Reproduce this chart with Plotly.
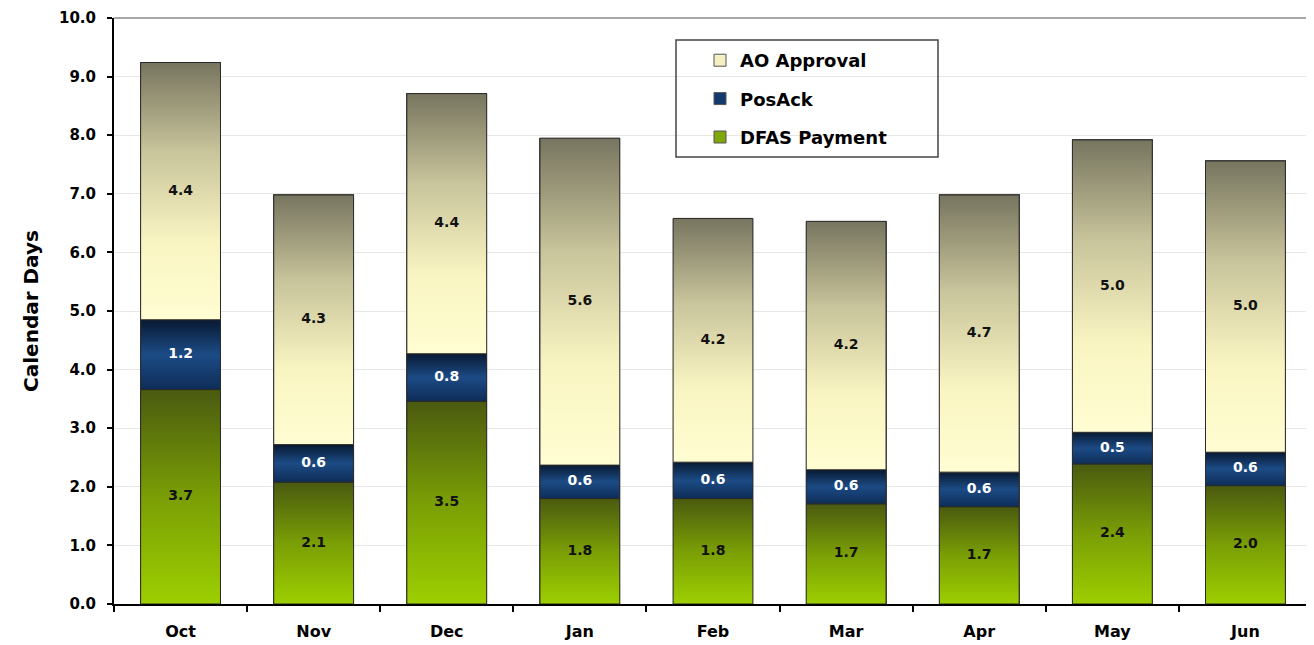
import plotly.graph_objects as go

months = ["Oct", "Nov", "Dec", "Jan", "Feb", "Mar", "Apr", "May", "Jun"]
dfas_payment = [3.66, 2.08, 3.46, 1.80, 1.80, 1.71, 1.66, 2.39, 2.02]
pos_ack = [1.19, 0.64, 0.81, 0.57, 0.62, 0.58, 0.59, 0.54, 0.57]
ao_approval = [4.39, 4.26, 4.44, 5.58, 4.16, 4.24, 4.73, 4.99, 4.97]
y_ticks = [0, 1, 2, 3, 4, 5, 6, 7, 8, 9, 10]

series = [
    ("DFAS Payment", dfas_payment, "#7fa60a",
     [[0, "#9dcf00"], [0.5, "#7a9e05"], [1, "#4a5a10"]], "#111111", 3),
    ("PosAck", pos_ack, "#123a6c",
     [[0, "#0e2d58"], [0.5, "#1c4b85"], [1, "#081a33"]], "#ffffff", 2),
    ("AO Approval", ao_approval, "#f4f0c4",
     [[0, "#fffdd2"], [0.3, "#f9f5c2"], [0.65, "#c9c59c"], [1, "#77755f"]], "#111111", 1),
]

HEAVY = "DejaVu Sans, Verdana, sans-serif"
W = 0.6
xs = list(range(len(months)))
fig = go.Figure()

# stacked bars (data + legend)
for name, vals, solid, cs, tcol, rank in series:
    fig.add_trace(go.Bar(
        x=xs, y=vals, name=name, width=W,
        marker=dict(color=solid, line=dict(color="#555555", width=1)),
        legendrank=rank, legendgroup=name, hoverinfo="skip",
    ))

# gradient overlay for each stacked segment
base = [0.0] * len(months)
label_x, label_y, label_t, label_c = [], [], [], []
for name, vals, solid, cs, tcol, rank in series:
    for i, v in enumerate(vals):
        b = base[i]
        t = b + v
        fig.add_trace(go.Scatter(
            x=[i - W / 2, i + W / 2, i + W / 2, i - W / 2, i - W / 2],
            y=[b, b, t, t, b],
            mode="lines",
            fill="toself",
            fillgradient=dict(type="vertical", start=b, stop=t, colorscale=cs),
            line=dict(color="#2a2a2a", width=1),
            showlegend=False,
            hoverinfo="skip",
        ))
        label_x.append(i)
        label_y.append((b + t) / 2)
        label_t.append(f"<b>{v:.1f}</b>")
        label_c.append(tcol)
        base[i] = t

fig.add_trace(go.Scatter(
    x=label_x, y=label_y, text=label_t, mode="text",
    textfont=dict(family=HEAVY, size=14, color=label_c),
    showlegend=False, hoverinfo="skip",
))

PL, PW, PT, PH = 114, 1198, 18, 586
def px(a):
    return (a - PL) / PW
def py(a):
    return (PT + PH - a) / PH

fig.update_layout(
    width=1306, height=637,
    margin=dict(l=106, r=2, t=10, b=41),
    barmode="stack",
    paper_bgcolor="white", plot_bgcolor="white",
    font=dict(family=HEAVY, color="#000000"),
    legend=dict(
        x=px(700), y=py(42), xanchor="left", yanchor="top",
        traceorder="grouped", tracegroupgap=12,
        font=dict(family=HEAVY, size=18, weight="bold"),
        bgcolor="rgba(0,0,0,0)", borderwidth=0,
        itemwidth=30,
    ),
    shapes=[
        dict(type="rect", xref="paper", yref="paper", x0=px(676), x1=px(938), y0=py(157), y1=py(40),
             line=dict(color="#444444", width=1.5), fillcolor="rgba(0,0,0,0)", layer="above"),
        dict(type="line", xref="paper", yref="paper", x0=0, x1=1, y0=1, y1=1,
             line=dict(color="#8a8a8a", width=1.5)),
    ],
    showlegend=True,
)

fig.update_xaxes(
    range=[-0.5, len(months) - 0.5],
    tickmode="array", tickvals=xs, ticktext=[f"<b>{m}</b>" for m in months],
    ticks="", tickfont=dict(family=HEAVY, size=16), ticklabelstandoff=12,
    showgrid=False, zeroline=False,
    showline=True, linecolor="#000000", linewidth=2,
    minor=dict(tickmode="linear", tick0=-0.5, dtick=1, ticks="outside", ticklen=6,
               tickcolor="#000000", tickwidth=1.5, showgrid=False),
    fixedrange=True,
)
fig.update_yaxes(
    range=[0, 10],
    tickmode="array", tickvals=y_ticks, ticktext=[f"<b>{v:.1f}</b>" for v in y_ticks],
    ticks="outside", ticklen=5, tickcolor="#000000", tickwidth=1.5,
    tickfont=dict(family=HEAVY, size=15), ticklabelstandoff=8,
    ticklabeloverflow="allow",
    showgrid=True, gridcolor="#e6e6e6", gridwidth=1,
    zeroline=False,
    showline=True, linecolor="#000000", linewidth=2,
    title=dict(text="<b>Calendar Days</b>", font=dict(family=HEAVY, size=20), standoff=15),
    automargin=False,
    fixedrange=True,
)

fig.write_html("out.html")
